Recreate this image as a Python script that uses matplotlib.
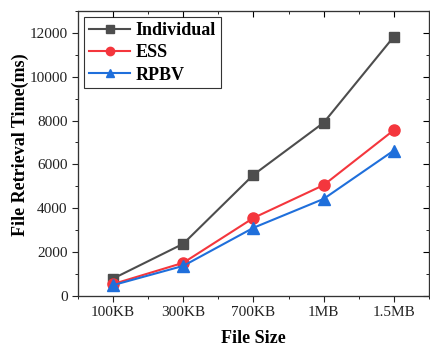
import matplotlib
matplotlib.use('Agg')
from matplotlib import pyplot as plt
from matplotlib.ticker import MultipleLocator

# Data.
sizes = ['100KB', '300KB', '700KB', '1MB', '1.5MB']
individual = [780, 2370, 5520, 7900, 11830]
ess = [530, 1500, 3550, 5050, 7560]
rpbv = [480, 1360, 3100, 4420, 6630]

plt.rcParams['font.family'] = ['Liberation Serif', 'DejaVu Serif']

fig = plt.figure(figsize=(4.3, 3.47), dpi=100)
ax = fig.add_axes([0.1814, 0.148, 0.816, 0.820])

x = list(range(len(sizes)))
ax.plot(x, individual, c='#4d4d4d', lw=1.5, marker='s', ms=7, label='Individual')
ax.plot(x, ess, c='#f4363d', lw=1.5, marker='o', ms=8, label='ESS')
ax.plot(x, rpbv, c='#1f6fdb', lw=1.5, marker='^', ms=8.5, label='RPBV')

ax.set_xlim(-0.5, 4.5)
ax.set_ylim(0, 13000)
ax.set_xticks(x)
ax.set_xticklabels(sizes)
ax.xaxis.set_minor_locator(MultipleLocator(0.5))
ax.yaxis.set_major_locator(MultipleLocator(2000))
ax.yaxis.set_minor_locator(MultipleLocator(1000))

ax.tick_params(axis='both', which='major', labelsize=11, length=4, direction='out',
               colors='#222222')
ax.tick_params(axis='both', which='minor', length=2.5, direction='out')

# Mirror ticks on top and right, pointing in.
top = ax.twiny()
top.set_xlim(ax.get_xlim())
top.set_xticks(x)
top.set_xticklabels([])
top.xaxis.set_minor_locator(MultipleLocator(0.5))
top.tick_params(which='major', direction='in', length=4)
top.tick_params(which='minor', direction='in', length=2.5)
right = ax.twinx()
right.set_ylim(ax.get_ylim())
right.yaxis.set_major_locator(MultipleLocator(2000))
right.yaxis.set_minor_locator(MultipleLocator(1000))
right.set_yticklabels([])
right.tick_params(which='major', direction='in', length=4)
right.tick_params(which='minor', direction='in', length=2.5)

for a in (ax, top, right):
    for s in a.spines.values():
        s.set_color('#333333')

ax.set_xlabel('File Size', fontsize=13, fontweight='bold', labelpad=8)
ax.set_ylabel('File Retrieval Time(ms)', fontsize=13, fontweight='bold')
ax.yaxis.set_label_coords(-0.141, 0.53)

leg = ax.legend(loc='upper left', prop={'weight': 'bold', 'size': 13},
                fancybox=False, edgecolor='#333333', framealpha=1,
                borderaxespad=0.35, handlelength=2.3, borderpad=0.25,
                labelspacing=0.3, handletextpad=0.3, markerscale=0.75)
leg.get_frame().set_linewidth(0.8)
leg.set_zorder(5)

fig.savefig('out.png', dpi=100)
